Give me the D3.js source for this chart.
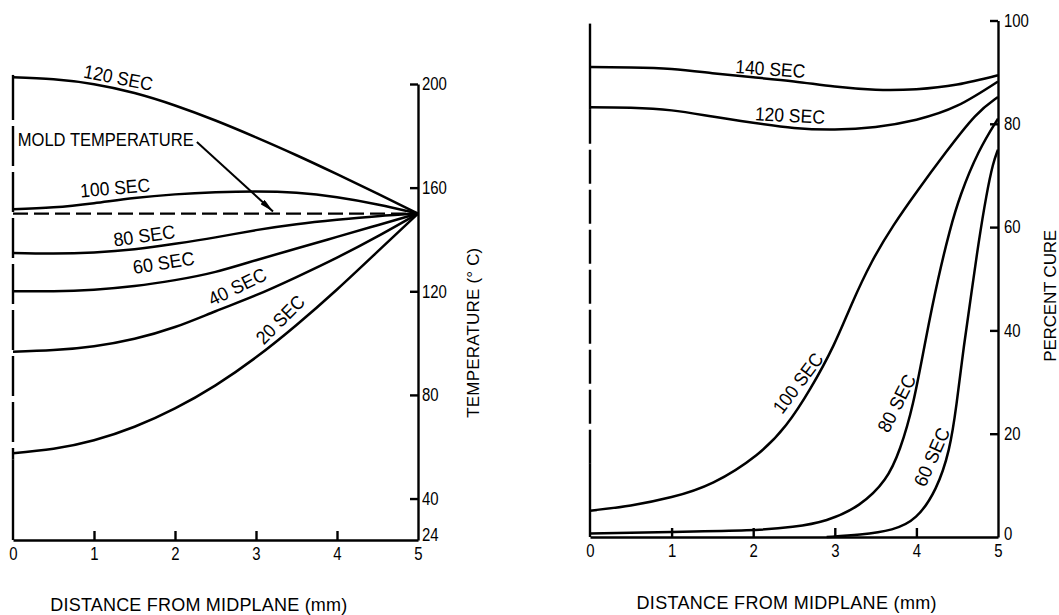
<!DOCTYPE html>
<html><head><meta charset="utf-8">
<script src="https://cdn.jsdelivr.net/npm/d3@7"></script>
<style>body{margin:0;background:#fff} svg{display:block}</style>
</head><body>
<svg id="c" width="1059" height="615"></svg>
<script>
const FONT = '"Liberation Sans Narrow","Liberation Sans",Arial,sans-serif';

// ---------- data: left panel (temperature, °C) ----------
const distTicks = [0,1,2,3,4,5];
const tempTicks = [24,40,80,120,160,200];
const distGrid = [0,0.5,1,1.5,2,2.5,3,3.5,4,4.5,5];
const temp120 = [202.6,201.8,199.9,196.5,191.7,185.9,179.4,172.5,165.2,157.7,150];
const temp100 = [151.7,152.4,154,156,157.4,158.2,158.5,158,156.3,153.5,150];
const temp80  = [134.8,134.6,135,136.2,138.3,140.8,143.6,145.9,147.6,149,150];
const temp60  = [120,120,120.6,122,124.3,127.5,132,136.5,141,145.5,150];
const temp40  = [96.7,97.3,98.8,101.7,106.2,112.3,118.5,125.5,133,141.2,150];
const temp20  = [57.5,59.2,62.5,67.7,74.8,83.7,94.5,107,120.7,135.3,150];
const moldX = [0,5];
const moldTemp = [150,150];

// ---------- data: right panel (percent cure) ----------
const cureTicks = [0,20,40,60,80,100];
const cure140 = [91.0,90.9,90.6,89.8,89.0,88.2,87.2,86.6,86.7,87.6,89.4];
const cure120 = [83.2,83.1,82.6,81.4,80.2,79.2,78.9,79.4,80.8,83.5,88.2];
const cure100X = [0,0.5,1,1.5,2.08,2.41,2.7,3.0,3.2,3.45,3.72,4.0,4.35,4.74,5];
const cure100  = [5.1,6.0,7.6,10.0,15.9,21.4,28.5,37.2,45,53.5,60.5,66.8,74.3,82.3,85.2];
const cure80X = [0,1,2,2.5,2.9,3.31,3.64,3.8,3.96,4.11,4.27,4.41,4.53,4.76,5];
const cure80  = [0.7,1.0,1.2,1.9,3.0,5.9,11.0,16.8,25.2,38.1,50.5,59.5,66,74.9,81];
const cure60X = [2.9,3.31,3.72,4.0,4.25,4.41,4.49,4.58,4.68,4.76,4.86,4.94,5];
const cure60  = [0,0.4,1.3,3.3,9.1,16.8,25.2,37,47.8,56.9,66.5,72.5,75];

const svg = d3.select("#c");
const zip = (xs, ys) => xs.map((x,i)=>[x,ys[i]]);

function panel(o){
  const g = svg.append("g");
  const x = d3.scaleLinear([0,5], o.xr);
  const y = d3.scaleLinear(o.yd, o.yr);
  // bottom axis
  const bx = g.append("g").attr("transform",`translate(0,${o.yr[0]})`)
    .call(d3.axisBottom(x).tickValues(distTicks).tickFormat(d3.format("d"))
      .tickSizeInner(-9).tickSizeOuter(0).tickPadding(7));
  bx.selectAll(".tick line").filter(d=>d===0||d===5).remove();
  // right axis
  const ry = g.append("g").attr("transform",`translate(${o.xr[1]},0)`)
    .call(d3.axisRight(y).tickValues(o.yTicks).tickFormat(d3.format("d"))
      .tickSizeInner(-8).tickSizeOuter(0).tickPadding(o.padR));
  ry.selectAll(".tick line").filter(d=>d===o.yd[0]).remove();
  ry.selectAll(".tick text").filter(d=>d===o.yd[0]).attr("y",o.firstShift);
  [bx,ry].forEach(a=>{
    a.attr("font-family",FONT).attr("font-size",18);
    a.selectAll("path,line").attr("stroke","#000").attr("stroke-width",2.4);
    a.selectAll("text").attr("fill","#000")
      .attr("textLength",d=>String(d).length*8.3).attr("lengthAdjust","spacingAndGlyphs");
  });
  // left vertical (midplane) line: solid top, dashed middle, solid bottom
  const seg = (a,b,dash)=>g.append("line").attr("x1",x(0)).attr("x2",x(0))
    .attr("y1",y(a)).attr("y2",y(b)).attr("stroke","#000").attr("stroke-width",2.4)
    .attr("stroke-dasharray",dash||null);
  seg(o.leftTop,o.leftSplitTop);
  seg(o.leftSplitTop,o.leftSplit,o.dash);
  seg(o.leftSplit,o.yd[0]);
  o.series.forEach(s=>{
    const line = d3.line().x(d=>x(d[0])).y(d=>y(d[1])).curve(s.curve||o.curve);
    g.append("path").attr("d",line(zip(s.x,s.y))).attr("fill","none")
      .attr("stroke","#000").attr("stroke-width",s.dash?2.3:2.5)
      .attr("stroke-dasharray",s.dash||null);
  });
  o.labels.forEach(l=>{
    g.append("text").attr("transform",`translate(${x(l.d)},${y(l.v)}) rotate(${l.r})`)
      .attr("text-anchor","middle").attr("dominant-baseline","central")
      .attr("font-family",FONT).attr("font-size",l.fs||19)
      .attr("textLength",l.w).attr("lengthAdjust","spacingAndGlyphs").text(l.t);
  });
  // axis titles
  g.append("text").attr("x",x(o.xtitle[0])).attr("y",o.xtitle[1])
    .attr("font-family",FONT).attr("font-size",18).attr("textLength",o.xtitle[2])
    .attr("lengthAdjust","spacing").text("DISTANCE FROM MIDPLANE (mm)");
  g.append("text").attr("transform",`translate(${o.xr[1]+o.ytitle[0]},${y(o.ytitle[1])}) rotate(-90)`)
    .attr("text-anchor","middle").attr("dominant-baseline","central")
    .attr("font-family",FONT).attr("font-size",17).attr("textLength",o.ytitle[2])
    .attr("lengthAdjust","spacing").text(o.ytitle[3]);
  return {g,x,y};
}

const L = panel({
  xr:[13,418], yd:[24,200], yr:[540,84], yTicks:tempTicks, curve:d3.curveNatural,
  padR:4, firstShift:-5,
  leftTop:203.5, leftSplitTop:201.5, leftSplit:55, dash:"40,6",
  series:[
    {x:distGrid,y:temp120},{x:distGrid,y:temp100},{x:moldX,y:moldTemp,dash:"15,6",curve:d3.curveLinear},
    {x:distGrid,y:temp80},{x:distGrid,y:temp60},{x:distGrid,y:temp40},{x:distGrid,y:temp20}
  ],
  labels:[
    {t:"120 SEC",d:1.30,v:202.4,r:11,w:70},
    {t:"MOLD TEMPERATURE",d:1.145,v:178.2,r:0,w:176,fs:18},
    {t:"100 SEC",d:1.26,v:159.9,r:-5,w:70},
    {t:"80 SEC",d:1.62,v:141.4,r:-8,w:62},
    {t:"60 SEC",d:1.86,v:131,r:-9,w:62},
    {t:"40 SEC",d:2.77,v:121.7,r:-26,w:62},
    {t:"20 SEC",d:3.3,v:109,r:-45,w:60}
  ],
  xtitle:[0.46,611,297],
  ytitle:[55,104,170,"TEMPERATURE (° C)"]
});

// arrow from MOLD TEMPERATURE label to the dashed line
svg.append("defs").append("marker").attr("id","ah").attr("viewBox","0 0 14 6")
  .attr("refX",14).attr("refY",3).attr("markerWidth",14).attr("markerHeight",6)
  .attr("markerUnits","userSpaceOnUse").attr("orient","auto")
  .append("path").attr("d","M0,0L14,3L0,6Z").attr("fill","#000");
L.g.append("line").attr("x1",L.x(2.27)).attr("y1",L.y(177.6))
  .attr("x2",L.x(3.21)).attr("y2",L.y(150.8))
  .attr("stroke","#000").attr("stroke-width",2).attr("marker-end","url(#ah)");

panel({
  xr:[590,998], yd:[0,100], yr:[537,20.5], yTicks:cureTicks, curve:d3.curveBasis,
  padR:6, firstShift:-3,
  leftTop:99.4, leftSplitTop:82.7, leftSplit:14.3, dash:"34,6",
  series:[
    {x:distGrid,y:cure140,curve:d3.curveNatural},{x:distGrid,y:cure120,curve:d3.curveNatural},
    {x:cure100X,y:cure100},{x:cure80X,y:cure80},{x:cure60X,y:cure60}
  ],
  labels:[
    {t:"140 SEC",d:2.21,v:90.6,r:4,w:70},
    {t:"120 SEC",d:2.45,v:81.6,r:3,w:70},
    {t:"100 SEC",d:2.55,v:29.8,r:-53,w:70},
    {t:"80 SEC",d:3.76,v:25.9,r:-63,w:62},
    {t:"60 SEC",d:4.19,v:15.5,r:-66,w:62}
  ],
  xtitle:[0.57,609,300],
  ytitle:[52,46.7,132,"PERCENT CURE"]
});
</script>
</body></html>
